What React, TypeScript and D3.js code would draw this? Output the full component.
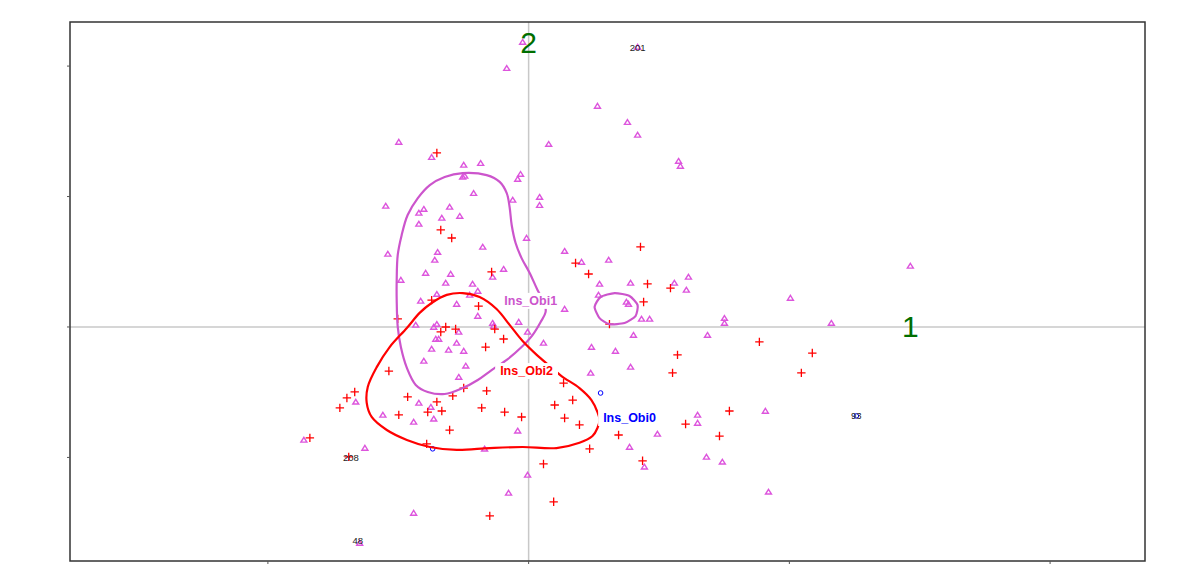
import React, { useEffect, useRef } from 'react';
import * as d3 from 'd3';

const WIDTH = 1185;
const HEIGHT = 582;
const MARGIN = { left: 70, top: 22, right: 40, bottom: 21 };
const X_DOMAIN: [number, number] = [-1.759, 2.364];
const Y_DOMAIN: [number, number] = [-0.897, 1.169];
const X_TICKS = [-1, 0, 1, 2];
const Y_TICKS = [-0.5, 0, 0.5, 1];

type P = [number, number];

// Ins_Obi1 individuals (triangles)
const obi1Points: P[] = [
  [-0.023, 1.092], [-0.084, 0.992], [0.264, 0.847], [0.379, 0.785], [0.418, 0.736],
  [-0.498, 0.709], [-0.372, 0.651], [-0.249, 0.621], [-0.184, 0.628], [0.077, 0.701],
  [0.575, 0.636], [0.582, 0.617], [-0.253, 0.575], [-0.245, 0.579], [-0.031, 0.586],
  [-0.042, 0.567], [-0.211, 0.513], [-0.548, 0.464], [-0.061, 0.487], [0.042, 0.498],
  [0.042, 0.467], [-0.402, 0.452], [-0.421, 0.437], [-0.303, 0.46], [-0.333, 0.418],
  [-0.264, 0.425], [-0.421, 0.395], [-0.008, 0.341], [-0.176, 0.307], [-0.54, 0.28],
  [-0.349, 0.287], [-0.36, 0.257], [0.138, 0.291], [-0.49, 0.18], [-0.395, 0.207],
  [-0.299, 0.203], [-0.318, 0.169], [-0.138, 0.192], [-0.096, 0.222], [-0.215, 0.165],
  [-0.195, 0.138], [-0.352, 0.126], [-0.414, 0.1], [-0.226, 0.123], [-0.276, 0.088],
  [-0.195, 0.042], [0.138, 0.069], [-0.433, 0.008], [-0.364, 0], [-0.352, 0.011],
  [-0.138, 0.015], [-0.134, 0.004], [-0.038, 0.019], [-0.268, -0.019], [-0.004, -0.019],
  [0.057, -0.061], [-0.356, -0.046], [-0.345, -0.046], [-0.276, -0.061], [-0.372, -0.084],
  [-0.307, -0.088], [-0.249, -0.092], [-0.402, -0.13], [-0.241, -0.149], [-0.268, -0.192],
  [-0.421, -0.291], [-0.375, -0.307], [-0.559, -0.337], [-0.441, -0.364], [-0.364, -0.352],
  [-0.663, -0.287], [-0.862, -0.433], [-0.628, -0.464], [-0.042, -0.398], [-0.169, -0.467],
  [-0.004, -0.567], [-0.077, -0.636], [-0.441, -0.713], [0.203, 0.249], [0.307, 0.257],
  [0.272, 0.165], [0.391, 0.169], [0.268, 0.123], [0.375, 0.096], [0.383, 0.088],
  [0.433, 0.031], [0.464, 0.031], [0.613, 0.192], [0.559, 0.169], [0.605, 0.142],
  [1.004, 0.111], [0.751, 0.034], [0.751, 0.015], [1.161, 0.015], [1.464, 0.234],
  [0.402, -0.031], [0.686, -0.031], [0.241, -0.077], [0.333, -0.092], [0.391, -0.153],
  [0.238, -0.176], [0.648, -0.337], [0.648, -0.368], [0.908, -0.322], [0.494, -0.41],
  [0.387, -0.46], [0.444, -0.536], [0.682, -0.498], [0.743, -0.517], [0.92, -0.632],
  [0.418, 1.073], [-0.648, -0.828],
];

// Ins_Obi2 individuals (crosses)
const obi2Points: P[] = [
  [-0.352, 0.667], [0.429, 0.307], [-0.337, 0.372], [-0.295, 0.341], [0.18, 0.245],
  [-0.142, 0.211], [-0.372, 0.103], [-0.192, 0.08], [-0.502, 0.031], [-0.318, 0],
  [-0.28, -0.008], [-0.337, -0.019], [-0.13, -0.008], [-0.096, -0.046], [-0.165, -0.077],
  [-0.536, -0.169], [-0.249, -0.234], [-0.291, -0.264], [-0.161, -0.245], [-0.464, -0.268],
  [-0.352, -0.287], [-0.333, -0.322], [-0.387, -0.326], [-0.498, -0.337], [-0.18, -0.31],
  [-0.092, -0.326], [-0.027, -0.345], [0.1, -0.299], [-0.303, -0.395], [-0.667, -0.249],
  [-0.697, -0.272], [-0.724, -0.31], [-0.391, -0.448], [-0.839, -0.425], [0.057, -0.525],
  [0.096, -0.67], [-0.149, -0.724], [0.134, -0.215], [0.169, -0.28], [0.138, -0.349],
  [0.195, -0.375], [0.345, -0.414], [0.234, -0.467], [0.23, 0.203], [0.456, 0.165],
  [0.544, 0.149], [0.441, 0.096], [0.31, 0.011], [0.885, -0.057], [1.088, -0.1],
  [0.571, -0.107], [0.552, -0.176], [1.046, -0.176], [0.77, -0.322], [0.602, -0.372],
  [0.732, -0.418], [0.437, -0.513], [-0.69, -0.498],
];

// Ins_Obi0 individuals (circles)
const obi0Points: P[] = [
  [0.276, -0.253], [-0.368, -0.467], [1.257, -0.341],
];

const pointLabels = [
  { text: '201', x: 0.418, y: 1.073 },
  { text: '208', x: -0.682, y: -0.502 },
  { text: '48', x: -0.655, y: -0.82 },
  { text: '93', x: 1.257, y: -0.341 },
];

// density contours
const obi1Contour: P[] = [
  [-0.253, 0.59], [-0.161, 0.582], [-0.111, 0.556], [-0.084, 0.513], [-0.073, 0.46],
  [-0.065, 0.391], [-0.05, 0.322], [-0.027, 0.264], [0.004, 0.207], [0.034, 0.142],
  [0.061, 0.092], [0.065, 0.057], [0.046, 0.019], [0.015, -0.031], [-0.027, -0.077],
  [-0.08, -0.123], [-0.142, -0.165], [-0.195, -0.203], [-0.253, -0.234], [-0.322, -0.257],
  [-0.387, -0.249], [-0.433, -0.222], [-0.467, -0.157], [-0.49, -0.077], [-0.502, 0],
  [-0.506, 0.103], [-0.506, 0.18], [-0.502, 0.276], [-0.487, 0.352], [-0.464, 0.429],
  [-0.425, 0.494], [-0.379, 0.544], [-0.322, 0.575],
];
const obi1SmallContour: P[] = [
  [0.253, 0.077], [0.276, 0.115], [0.33, 0.13], [0.387, 0.119], [0.418, 0.084],
  [0.41, 0.042], [0.368, 0.015], [0.31, 0.011], [0.272, 0.034],
];
const obi2Contour: P[] = [
  [-0.314, 0.123], [-0.253, 0.13], [-0.188, 0.115], [-0.123, 0.069], [-0.073, 0.008],
  [-0.023, -0.054], [0.031, -0.107], [0.08, -0.149], [0.126, -0.188], [0.195, -0.234],
  [0.241, -0.28], [0.264, -0.326], [0.272, -0.356], [0.264, -0.387], [0.245, -0.418],
  [0.195, -0.444], [0.107, -0.464], [-0.023, -0.46], [-0.149, -0.464], [-0.276, -0.471],
  [-0.379, -0.46], [-0.467, -0.433], [-0.544, -0.395], [-0.602, -0.345], [-0.621, -0.291],
  [-0.617, -0.23], [-0.582, -0.153], [-0.533, -0.077], [-0.467, -0.004], [-0.418, 0.054],
  [-0.372, 0.092],
];

const categories = [
  { name: 'Ins_Obi1', x: 0.008, y: 0.1, color: '#cc55cc' },
  { name: 'Ins_Obi2', x: -0.008, y: -0.169, color: '#ff0000' },
  { name: 'Ins_Obi0', x: 0.387, y: -0.349, color: '#0000ff' },
];

const axisLabels = [
  { text: '1', x: 1.464, y: 0 },
  { text: '2', x: 0, y: 1.092 },
];

const TRI_COLOR = '#dd55dd';
const CROSS_COLOR = '#ff0000';
const CIRCLE_COLOR = '#0000ff';
const AXIS_GREEN = '#006e00';

export default function App() {
  const ref = useRef<SVGSVGElement | null>(null);

  useEffect(() => {
    const svg = d3.select(ref.current);
    svg.selectAll('*').remove();

    const x = d3.scaleLinear().domain(X_DOMAIN).range([MARGIN.left, WIDTH - MARGIN.right]);
    const y = d3.scaleLinear().domain(Y_DOMAIN).range([HEIGHT - MARGIN.bottom, MARGIN.top]);
    const [x0, x1] = x.range();
    const [y0, y1] = y.range();

    svg.append('rect').attr('x', 0).attr('y', 0).attr('width', WIDTH).attr('height', HEIGHT).attr('fill', '#fff');

    // axes through origin
    svg.append('line').attr('x1', x0).attr('x2', x1).attr('y1', y(0)).attr('y2', y(0))
      .attr('stroke', '#c8c8c8').attr('stroke-width', 1.5);
    svg.append('line').attr('x1', x(0)).attr('x2', x(0)).attr('y1', y0).attr('y2', y1)
      .attr('stroke', '#c8c8c8').attr('stroke-width', 1.5);

    // triangles
    svg.append('g').selectAll('path').data(obi1Points).join('path')
      .attr('d', 'M0,-2.6L3,2.2L-3,2.2Z')
      .attr('transform', (d) => `translate(${x(d[0])},${y(d[1])})`)
      .attr('fill', 'none').attr('stroke', TRI_COLOR).attr('stroke-width', 1.4);

    // crosses
    svg.append('g').selectAll('path').data(obi2Points).join('path')
      .attr('d', 'M-4.2,0H4.2M0,-4.2V4.2')
      .attr('transform', (d) => `translate(${x(d[0])},${y(d[1])})`)
      .attr('fill', 'none').attr('stroke', CROSS_COLOR).attr('stroke-width', 1.3);

    // circles
    svg.append('g').selectAll('circle').data(obi0Points).join('circle')
      .attr('cx', (d) => x(d[0])).attr('cy', (d) => y(d[1])).attr('r', 2.3)
      .attr('fill', 'none').attr('stroke', CIRCLE_COLOR).attr('stroke-width', 1);

    // point labels
    svg.append('g').selectAll('text').data(pointLabels).join('text')
      .attr('x', (d) => x(d.x)).attr('y', (d) => y(d.y))
      .attr('text-anchor', 'middle').attr('dominant-baseline', 'central')
      .attr('font-family', 'Liberation Sans, Arial, sans-serif').attr('font-size', 9.5)
      .attr('fill', '#222').text((d) => d.text);

    // contours
    const closed = d3.line<P>().x((d) => x(d[0])).y((d) => y(d[1])).curve(d3.curveCatmullRomClosed.alpha(0.5));
    const poly = d3.line<P>().x((d) => x(d[0])).y((d) => y(d[1])).curve(d3.curveCardinalClosed.tension(0.4));
    svg.append('path').attr('d', closed(obi1Contour)).attr('fill', 'none').attr('stroke', '#cc55cc').attr('stroke-width', 2.2);
    svg.append('path').attr('d', poly(obi1SmallContour)).attr('fill', 'none').attr('stroke', '#cc55cc').attr('stroke-width', 2.2);
    svg.append('path').attr('d', closed(obi2Contour)).attr('fill', 'none').attr('stroke', '#ff0000').attr('stroke-width', 2.2);

    // category labels with white boxes
    categories.forEach((c) => {
      const g = svg.append('g');
      const t = g.append('text')
        .attr('x', x(c.x)).attr('y', y(c.y))
        .attr('text-anchor', 'middle').attr('dominant-baseline', 'central')
        .attr('font-family', 'Liberation Sans, Arial, sans-serif').attr('font-size', 12.5)
        .attr('font-weight', 'bold').attr('fill', c.color).text(c.name);
      const bb = (t.node() as SVGTextElement).getBBox();
      g.insert('rect', 'text')
        .attr('x', bb.x - 5).attr('y', bb.y - 1).attr('width', bb.width + 10).attr('height', bb.height + 2)
        .attr('fill', '#fff');
    });

    // axis labels
    svg.append('g').selectAll('text').data(axisLabels).join('text')
      .attr('x', (d) => x(d.x)).attr('y', (d) => y(d.y))
      .attr('text-anchor', 'middle').attr('dominant-baseline', 'central')
      .attr('font-family', 'Liberation Sans, Arial, sans-serif').attr('font-size', 30)
      .attr('fill', AXIS_GREEN).text((d) => d.text);

    // frame
    svg.append('rect').attr('x', x0).attr('y', y1).attr('width', x1 - x0).attr('height', y0 - y1)
      .attr('fill', 'none').attr('stroke', '#333').attr('stroke-width', 1.5);

    // ticks
    svg.append('g').selectAll('line').data(X_TICKS).join('line')
      .attr('x1', (d) => x(d)).attr('x2', (d) => x(d)).attr('y1', y0).attr('y2', y0 + 3)
      .attr('stroke', '#555').attr('stroke-width', 1);
    svg.append('g').selectAll('line').data(Y_TICKS).join('line')
      .attr('x1', x0 - 3).attr('x2', x0).attr('y1', (d) => y(d)).attr('y2', (d) => y(d))
      .attr('stroke', '#555').attr('stroke-width', 1);
  }, []);

  return (
    <svg
      ref={ref}
      width={WIDTH}
      height={HEIGHT}
      style={{ position: 'absolute', left: 0, top: 0, display: 'block' }}
    />
  );
}
